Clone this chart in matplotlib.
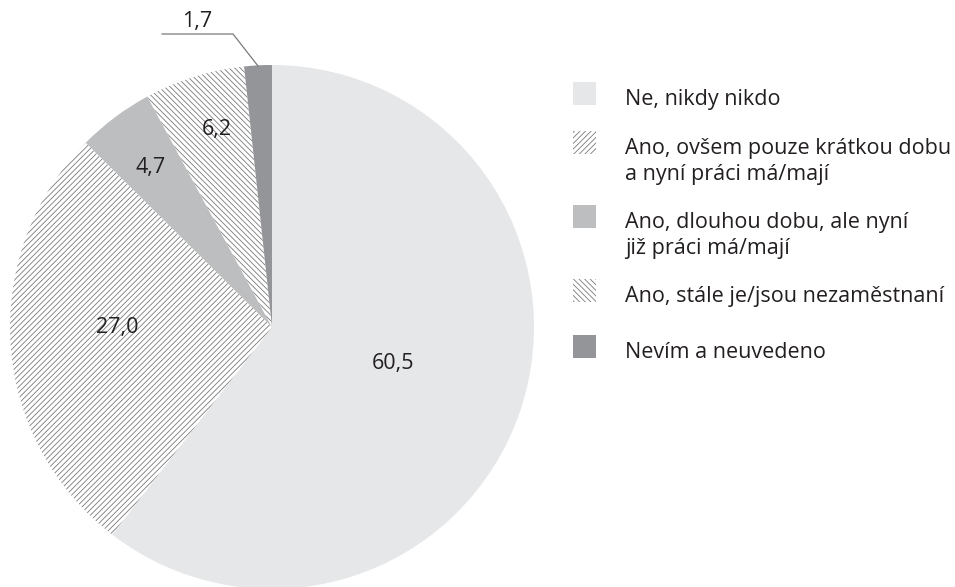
import matplotlib
matplotlib.use("Agg")
import matplotlib.pyplot as plt
from matplotlib.patches import Rectangle

plt.rcParams['font.family'] = ['Open Sans', 'DejaVu Sans']
plt.rcParams['hatch.linewidth'] = 0.6

categories = ["Ne, nikdy nikdo",
              "Ano, ovšem pouze krátkou dobu\na nyní práci má/mají",
              "Ano, dlouhou dobu, ale nyní\njiž práci má/mají",
              "Ano, stále je/jsou nezaměstnaní",
              "Nevím a neuvedeno"]
values = [60.5, 27.0, 4.7, 6.2, 1.7]
value_labels = ["60,5", "27,0", "4,7", "6,2", "1,7"]

colors = ["#e6e7e8", "white", "#bcbec0", "white", "#939598"]
hatches = [None, "//////", None, "\\\\\\\\\\\\", None]

W, H = 955, 587
fig = plt.figure(figsize=(W / 100, H / 100), dpi=100)
ax = fig.add_axes([0, 0, 1, 1])

cx, cy, r = 272, 327, 262
wedges, _ = ax.pie(values, startangle=-90, counterclock=True, radius=r,
                   center=(cx, cy), colors=colors, frame=True,
                   wedgeprops=dict(linewidth=0))
ax.set_xlim(0, W)
ax.set_ylim(H, 0)
ax.set_aspect('equal')
ax.axis('off')
for w, h in zip(wedges, hatches):
    if h:
        w.set_hatch(h)
        w.set_edgecolor("#7a7a7a")
        w.set_linewidth(0)

label_pos = [(393, 364), (117, 327), (151, 167), (217, 130), (197, 22)]
for (x, y), t in zip(label_pos, value_labels):
    ax.text(x, y, t, fontsize=15.5, ha='center', va='center', color='#231f20')

# leader line for 1,7
ax.plot([162, 233, 258], [34, 34, 66], color='#7a7a7a', lw=0.9)

# legend
baselines = [105, 154, 228, 302, 358]
line_gap = 26
for i, (lab, yb) in enumerate(zip(categories, baselines)):
    rect = Rectangle((573, yb - 23), 23, 23, facecolor=colors[i],
                     edgecolor="#7a7a7a" if hatches[i] else colors[i],
                     hatch=hatches[i], linewidth=0)
    ax.add_patch(rect)
    for j, line in enumerate(lab.split("\n")):
        ax.text(625, yb + j * line_gap, line, fontsize=15.5, ha='left',
                va='baseline', color='#231f20')

fig.savefig("out.png", dpi=100)
